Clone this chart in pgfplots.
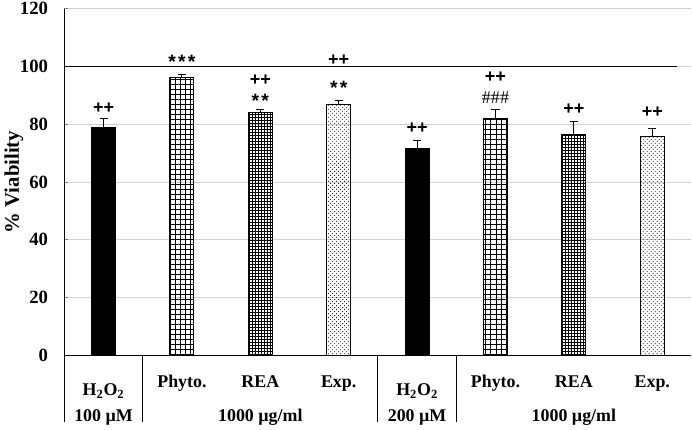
\documentclass[border=0pt]{standalone}
\usepackage{pgfplots}
\pgfplotsset{compat=1.18}
\usepackage{fontspec}
\setmainfont{Liberation Serif}
\newfontfamily\sansf{Liberation Sans}
\usetikzlibrary{patterns}

\pgfdeclarepatternformonly{biggrid}{\pgfqpoint{-0.5pt}{-0.5pt}}{\pgfqpoint{4.25pt}{4.25pt}}{\pgfqpoint{3.75pt}{3.75pt}}{%
  \pgfsetlinewidth{0.6pt}%
  \pgfpathmoveto{\pgfqpoint{0pt}{0pt}}\pgfpathlineto{\pgfqpoint{3.8pt}{0pt}}%
  \pgfpathmoveto{\pgfqpoint{0pt}{0pt}}\pgfpathlineto{\pgfqpoint{0pt}{3.8pt}}%
  \pgfusepath{stroke}}
\pgfdeclarepatternformonly{smallgrid}{\pgfqpoint{-0.5pt}{-0.5pt}}{\pgfqpoint{2.75pt}{2.75pt}}{\pgfqpoint{2.25pt}{2.25pt}}{%
  \pgfsetlinewidth{0.5pt}%
  \pgfpathmoveto{\pgfqpoint{0pt}{0pt}}\pgfpathlineto{\pgfqpoint{2.3pt}{0pt}}%
  \pgfpathmoveto{\pgfqpoint{0pt}{0pt}}\pgfpathlineto{\pgfqpoint{0pt}{2.3pt}}%
  \pgfusepath{stroke}}
\pgfdeclarepatternformonly{finedots}{\pgfqpoint{-0.5pt}{-0.5pt}}{\pgfqpoint{3.5pt}{3.5pt}}{\pgfqpoint{3pt}{3pt}}{%
  \pgfpathcircle{\pgfqpoint{0pt}{0pt}}{0.4pt}%
  \pgfpathcircle{\pgfqpoint{1.5pt}{1.5pt}}{0.4pt}%
  \pgfusepath{fill}}

\pgfplotstableread{
x y e
0 78.7 3.2
4 71.6 2.9
}\hperox
\pgfplotstableread{
x y e
1 96.1 1.2
5 82.1 2.9
}\phyto
\pgfplotstableread{
x y e
2 83.9 1.2
6 76.5 4.3
}\rea
\pgfplotstableread{
x y e
3 86.8 1.4
7 75.7 2.8
}\expt

\begin{document}
\begin{tikzpicture}
\begin{axis}[
  scale only axis, width=469.5pt, height=259.5pt,
  xmin=-0.5, xmax=7.5, ymin=0, ymax=120,
  ytick={0,20,...,120},
  axis x line=bottom, axis y line=left,
  axis line style={-, line width=0.8pt, black},
  ymajorgrids, grid style={draw=black!18, line width=0.6pt},
  tick align=inside, major tick length=3pt,
  ytick style={black!50, line width=0.6pt},
  xtick style={draw=none},
  /pgf/number format/assume math mode=true,
  yticklabel style={font=\bfseries\fontsize{14}{16}\selectfont, inner sep=0pt, xshift=-12pt},
  xtick={0,...,7},
  xticklabels={\raisebox{-6pt}{H\textsubscript{2}O\textsubscript{2}},Phyto.,REA,Exp.,\raisebox{-6pt}{H\textsubscript{2}O\textsubscript{2}},Phyto.,REA,Exp.},
  xticklabel style={font=\bfseries\fontsize{13.4}{15}\selectfont, anchor=base, yshift=-21pt},
  extra x ticks={0,2,4,6},
  extra x tick labels={100 µM,1000 µg/ml,200 µM,1000 µg/ml},
  extra x tick style={grid=none, xticklabel style={yshift=-25.5pt}},
  ylabel={\% Viability},
  ylabel style={font=\bfseries\fontsize{15.5}{17}\selectfont, yshift=-6pt},
  clip=false,
  ybar, bar width=18pt, bar shift=0pt,
  error bars/y dir=plus, error bars/y explicit,
  error bars/error mark options={rotate=90, mark size=3pt, line width=0.7pt, black},
  error bars/error bar style={line width=0.7pt, black},
]
\addplot[draw=black, line width=0.8pt, fill=black] table[x=x, y=y, y error=e]{\hperox};
\addplot[draw=black, line width=0.8pt, pattern=biggrid] table[x=x, y=y, y error=e]{\phyto};
\addplot[draw=black, line width=0.8pt, pattern=smallgrid] table[x=x, y=y, y error=e]{\rea};
\addplot[draw=black, line width=0.8pt, pattern=finedots] table[x=x, y=y, y error=e]{\expt};

\draw[line width=1.4pt] (axis cs:-0.5,100) -- (axis cs:7.32,100);

\draw[line width=0.8pt] (axis cs:-0.5,0) -- ([yshift=-50pt]axis cs:-0.5,0);
\draw[line width=0.8pt] (axis cs:0.5,0) -- ([yshift=-50pt]axis cs:0.5,0);
\draw[line width=0.8pt] (axis cs:3.5,0) -- ([yshift=-50pt]axis cs:3.5,0);
\draw[line width=0.8pt] (axis cs:4.5,0) -- ([yshift=-50pt]axis cs:4.5,0);
\path ([yshift=6.5pt]axis cs:-0.5,120);

\tikzset{pp/.style={font=\sansf\bfseries\fontsize{13.5}{14}\selectfont},
         st/.style={font=\sansf\bfseries\fontsize{14.5}{14}\selectfont}}
\node[pp] at (axis cs:0,85.7) {++};
\node[st] at (axis cs:1,101.6) {*\hspace{1.6pt}*\hspace{1.6pt}*};
\node[pp] at (axis cs:2,95.4) {++};
\node[st] at (axis cs:2,88.0) {*\hspace{1.6pt}*};
\node[pp] at (axis cs:3,102.3) {++};
\node[st] at (axis cs:3,92.6) {*\hspace{1.6pt}*};
\node[pp] at (axis cs:4,78.7) {++};
\node[pp] at (axis cs:5,96.4) {++};
\node[font=\fontsize{13.5}{14}\selectfont] at (axis cs:5,89.1) {\#\#\#};
\node[pp] at (axis cs:6,85.3) {++};
\node[pp] at (axis cs:7,84.3) {++};
\end{axis}
\end{tikzpicture}
\end{document}
